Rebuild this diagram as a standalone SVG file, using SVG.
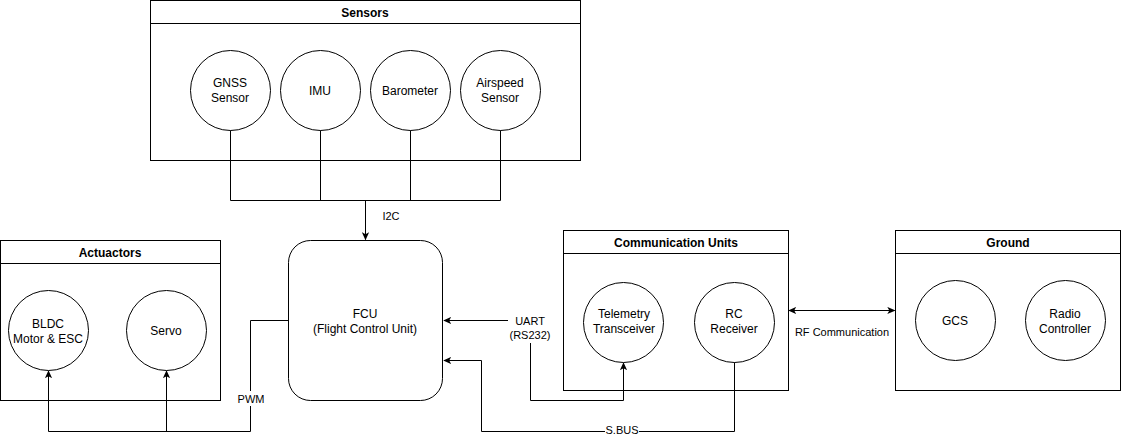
<svg xmlns="http://www.w3.org/2000/svg" width="1121" height="439" viewBox="0 0 1121 439">
<defs>
<marker id="arr" viewBox="0 0 10 10" refX="9" refY="5" markerWidth="8" markerHeight="8" orient="auto-start-reverse" markerUnits="userSpaceOnUse">
<path d="M0,0.5 L10,5 L0,9.5 L2.5,5 z" fill="#000"/>
</marker>
<style>
text{font-family:"Liberation Sans",Arial,sans-serif;font-size:12px;fill:#000;text-anchor:middle}
.t{font-weight:bold}
.s{font-size:11px}
.box{fill:#fff;stroke:#000;stroke-width:1}
.c{fill:#fff;stroke:#000;stroke-width:1}
.e{fill:none;stroke:#000;stroke-width:1}
.lbl{fill:#fff;stroke:none}
</style>
</defs>
<rect width="1121" height="439" fill="#fff"/>
<g id="sensors">
<rect class="box" x="150.5" y="0.5" width="430" height="160"/>
<line class="e" x1="150.5" y1="23.5" x2="580.5" y2="23.5"/>
<text class="t" x="365" y="17">Sensors</text>
</g>
<g id="gnss"><circle class="c" cx="230.5" cy="90.5" r="40"/><text x="230" y="87">GNSS</text><text x="230" y="102">Sensor</text></g>
<g id="imu"><circle class="c" cx="320.5" cy="90.5" r="40"/><text x="320" y="95">IMU</text></g>
<g id="baro"><circle class="c" cx="410.5" cy="90.5" r="40"/><text x="410" y="95">Barometer</text></g>
<g id="airspeed"><circle class="c" cx="500.5" cy="90.5" r="40"/><text x="500" y="87">Airspeed</text><text x="500" y="102">Sensor</text></g>
<g id="actuators">
<rect class="box" x="0.5" y="240.5" width="220" height="160"/>
<line class="e" x1="0.5" y1="263.5" x2="220.5" y2="263.5"/>
<text class="t" x="110" y="257">Actuactors</text>
</g>
<g id="bldc"><circle class="c" cx="48.5" cy="330.5" r="40"/><text x="48" y="328">BLDC</text><text x="48" y="343">Motor &amp; ESC</text></g>
<g id="servo"><circle class="c" cx="166.5" cy="330.5" r="40"/><text x="166" y="335">Servo</text></g>
<g id="fcu"><rect class="box" x="288.5" y="240.5" width="154" height="160" rx="22" ry="22"/><text x="365" y="318">FCU</text><text x="365" y="333">(Flight Control Unit)</text></g>
<g id="comm">
<rect class="box" x="563.5" y="230.5" width="225" height="160"/>
<line class="e" x1="563.5" y1="253.5" x2="788.5" y2="253.5"/>
<text class="t" x="676" y="247">Communication Units</text>
</g>
<g id="telemetry"><circle class="c" cx="623.5" cy="322.5" r="40"/><text x="624" y="318">Telemetry</text><text x="624" y="333">Transceiver</text></g>
<g id="rc"><circle class="c" cx="734.5" cy="322.5" r="40"/><text x="734" y="318">RC</text><text x="734" y="333">Receiver</text></g>
<g id="ground">
<rect class="box" x="895.5" y="230.5" width="225" height="160"/>
<line class="e" x1="895.5" y1="253.5" x2="1120.5" y2="253.5"/>
<text class="t" x="1008" y="247">Ground</text>
</g>
<g id="gcs"><circle class="c" cx="955.5" cy="320.5" r="40"/><text x="955" y="325">GCS</text></g>
<g id="radio"><circle class="c" cx="1065.5" cy="320.5" r="40"/><text x="1065" y="318">Radio</text><text x="1065" y="333">Controller</text></g>
<g id="connectors">
<path class="e" d="M230.5,130.5 V200.5 H500.5 M320.5,130.5 V200.5 M410.5,130.5 V200.5 M500.5,130.5 V200.5"/>
<path class="e" d="M365.5,200.5 V239.5" marker-end="url(#arr)"/>
<text class="s" x="391" y="220">I2C</text>
<path class="e" d="M288.5,320.5 H250.5 V431.5 H48.5 V371" marker-end="url(#arr)"/>
<path class="e" d="M166.5,431.5 V371" marker-end="url(#arr)"/>
<rect class="lbl" x="235" y="391" width="32" height="15"/>
<text class="s" x="251" y="403">PWM</text>
<path class="e" d="M444,320.5 H530.5 V400.5 H623.5 V363" marker-start="url(#arr)" marker-end="url(#arr)"/>
<rect class="lbl" x="508" y="313" width="45" height="30"/>
<text class="s" x="530" y="325">UART</text>
<text class="s" x="530" y="339">(RS232)</text>
<path class="e" d="M734.5,362.5 V431.5 H481.5 V360.5 H444" marker-end="url(#arr)"/>
<rect class="lbl" x="605" y="424" width="34" height="14"/>
<text class="s" x="622" y="434">S.BUS</text>
<path class="e" d="M789,310.5 H894.5" marker-start="url(#arr)" marker-end="url(#arr)"/>
<text x="842" y="336" style="font-size:11px">RF Communication</text>
</g>
</svg>
